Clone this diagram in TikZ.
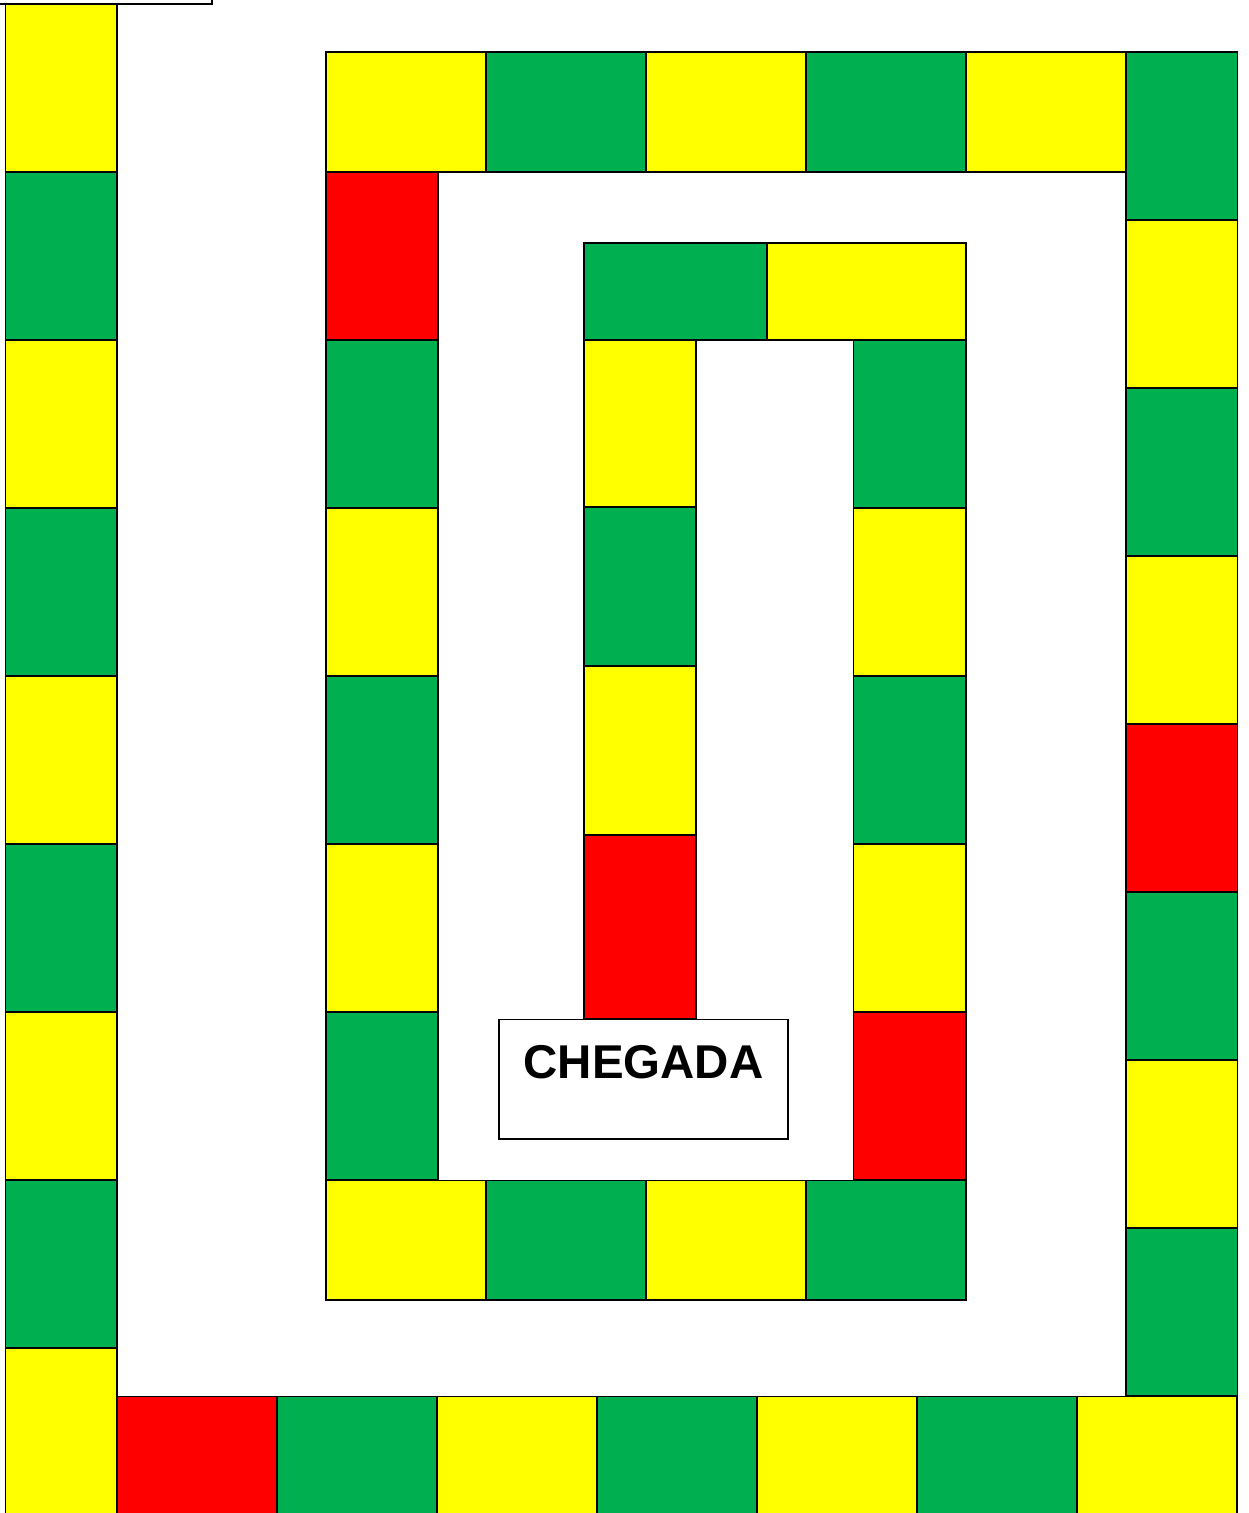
\documentclass[tikz,border=0pt]{standalone}
\usepackage{fontspec}
\setmainfont{Liberation Sans}
\usetikzlibrary{positioning}
\definecolor{BoardYellow}{RGB}{255,255,0}
\definecolor{BoardGreen}{RGB}{0,176,80}
\definecolor{BoardRed}{RGB}{255,0,0}
\tikzset{
  cell/.style={draw=black,line width=1.1pt},
  finish/.style={draw=black,line width=1.1pt,fill=white,inner sep=0pt,text width=5.78cm,align=center,text height=1.18cm,text depth=1.22cm,font=\bfseries\fontsize{27}{27}\selectfont}
}

\begin{document}
\begin{tikzpicture}[x=0.02cm,y=-0.02cm]
\useasboundingbox (0,0) rectangle (1248,1513);
\clip (0,0) rectangle (1248,1513);

% start box (cut off at the top)
\draw[cell] (-10,-10) rectangle (212,4);

% outer path
\foreach \c [count=\i from 0] in {BoardYellow,BoardGreen,BoardYellow,BoardGreen,BoardYellow,BoardGreen,BoardYellow,BoardGreen,BoardYellow}
  \draw[cell,fill=\c] (5.5,{4+168*\i}) rectangle (117,{172+168*\i});
\foreach \c [count=\i from 0] in {BoardRed,BoardGreen,BoardYellow,BoardGreen,BoardYellow,BoardGreen,BoardYellow}
  \draw[cell,fill=\c] ({117+160*\i},1396.5) rectangle ({277+160*\i},1530);
\foreach \c [count=\i from 0] in {BoardGreen,BoardYellow,BoardGreen,BoardYellow,BoardRed,BoardGreen,BoardYellow,BoardGreen}
  \draw[cell,fill=\c] (1126,{52+168*\i}) rectangle (1237.5,{220+168*\i});
\foreach \c [count=\i from 0] in {BoardYellow,BoardGreen,BoardYellow,BoardGreen,BoardYellow}
  \draw[cell,fill=\c] ({326+160*\i},52) rectangle ({486+160*\i},172);

% middle path
\foreach \c [count=\i from 0] in {BoardRed,BoardGreen,BoardYellow,BoardGreen,BoardYellow,BoardGreen}
  \draw[cell,fill=\c] (326,{172+168*\i}) rectangle (438,{340+168*\i});
\foreach \c [count=\i from 0] in {BoardYellow,BoardGreen,BoardYellow,BoardGreen}
  \draw[cell,fill=\c] ({326+160*\i},1180.5) rectangle ({486+160*\i},1300);
\foreach \c [count=\i from 0] in {BoardGreen,BoardYellow,BoardGreen,BoardYellow,BoardRed}
  \draw[cell,fill=\c] (853.5,{340+168*\i}) rectangle (966,{508+168*\i});

% inner path
\draw[cell,fill=BoardGreen] (584,243) rectangle (767,340);
\draw[cell,fill=BoardYellow] (767,243) rectangle (966,340);
\draw[cell,fill=BoardYellow] (584,340) rectangle (696,507.3);
\draw[cell,fill=BoardGreen] (584,507.3) rectangle (696,666.3);
\draw[cell,fill=BoardYellow] (584,666.3) rectangle (696,835);
\draw[cell,fill=BoardRed] (584,835) rectangle (696,1018.5);

\node[finish,anchor=north] (chegada) at (643.5,1018.5) {CHEGADA};
\end{tikzpicture}
\end{document}
